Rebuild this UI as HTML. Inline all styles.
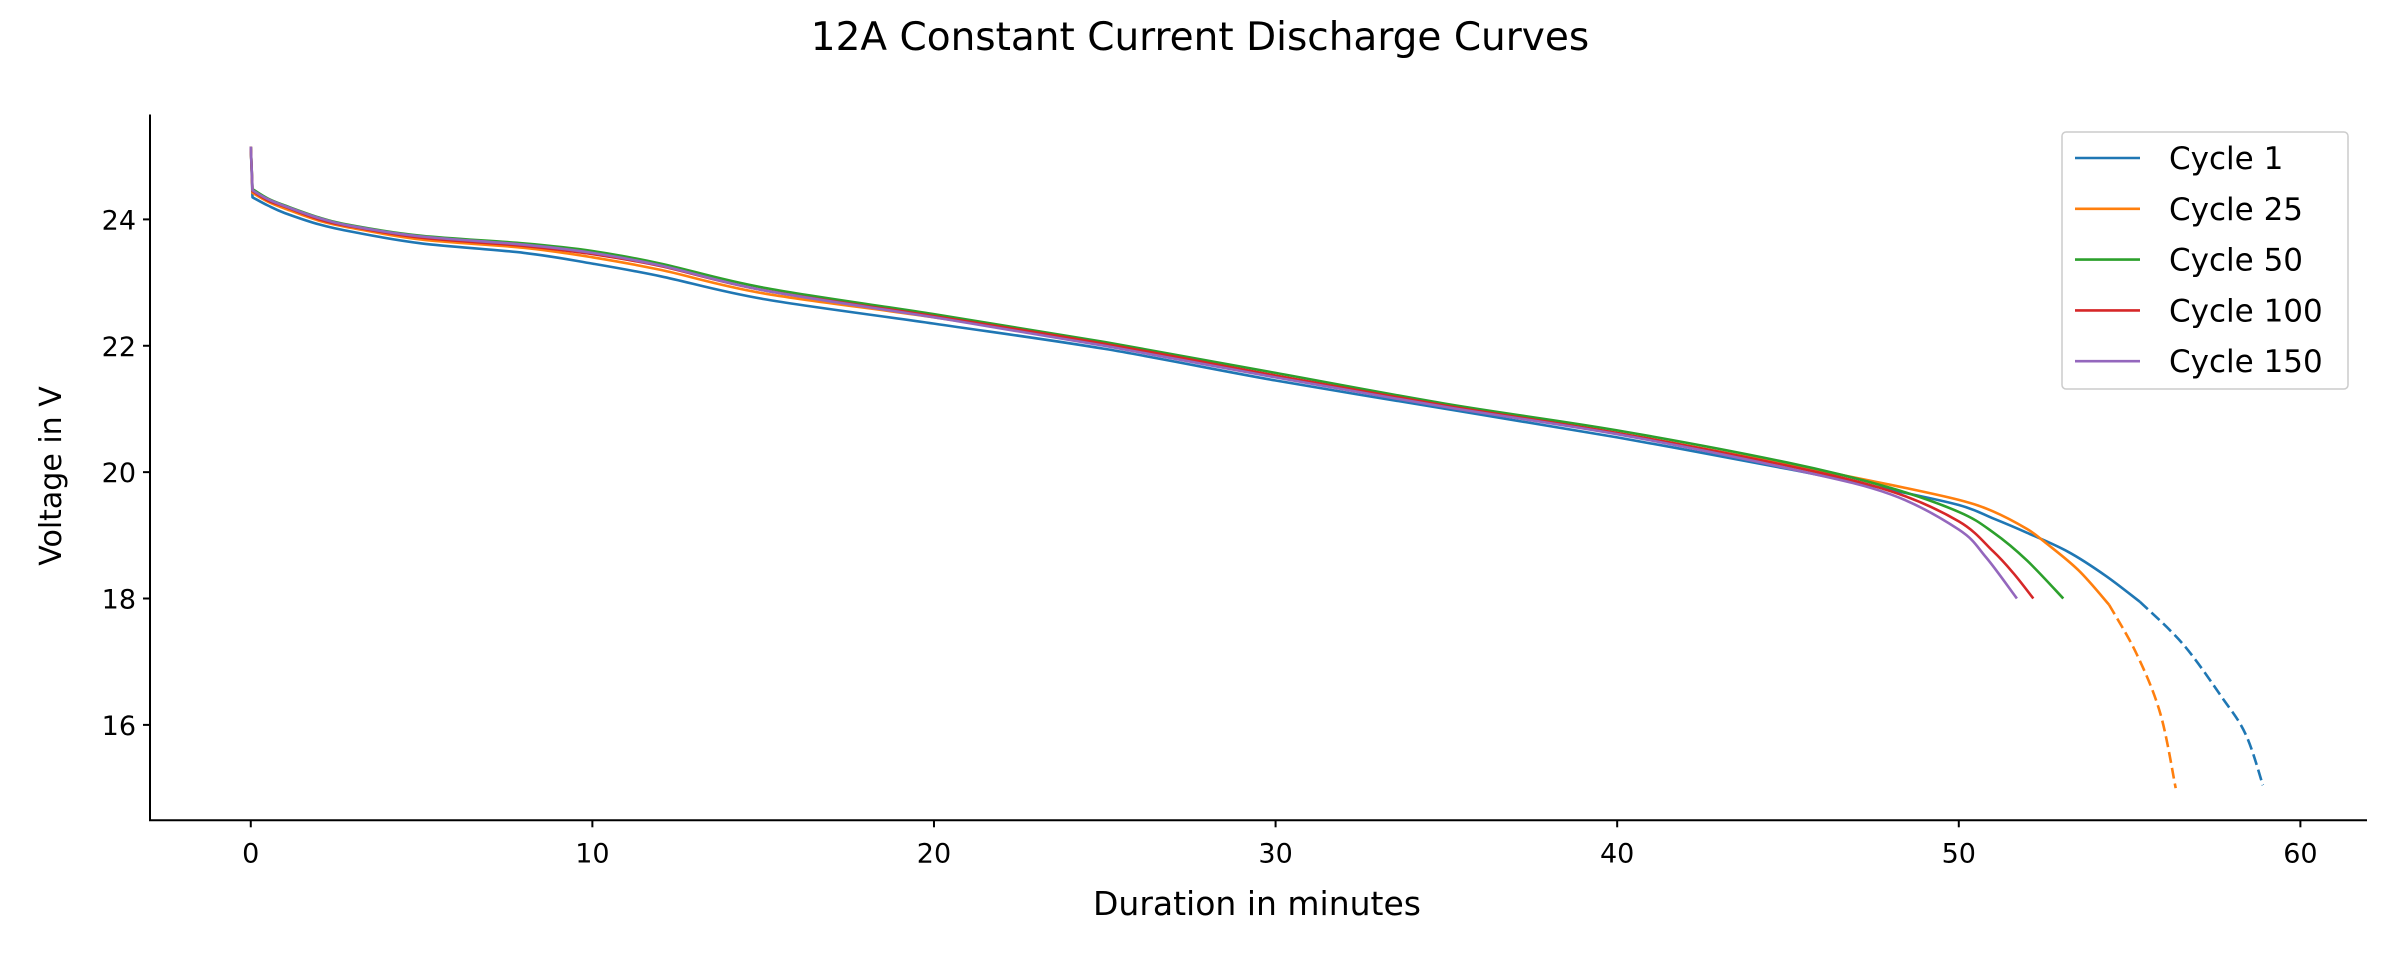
<!DOCTYPE html>
<html><head><meta charset="utf-8"><style>
html,body{margin:0;padding:0;background:#fff;}
svg{display:block;font-family:"DejaVu Sans","Liberation Sans",sans-serif;}
</style></head><body>
<svg id="chart" width="2400" height="960" viewBox="0 0 2400 960" xmlns="http://www.w3.org/2000/svg">
<text x="1200" y="50" text-anchor="middle" font-size="39">12A Constant Current Discharge Curves</text>
<g id="plot"></g>
<g id="axes"></g>
<text x="1257" y="915" text-anchor="middle" font-size="33">Duration in minutes</text>
<text transform="translate(61,476) rotate(-90)" text-anchor="middle" font-size="30">Voltage in V</text>
<g id="legend"></g>
</svg>
<script>
const xTicks = [0,10,20,30,40,50,60];
const yTicks = [16,18,20,22,24];
const seriesNames = ["Cycle 1","Cycle 25","Cycle 50","Cycle 100","Cycle 150"];
const seriesColors = ["#1f77b4","#ff7f0e","#2ca02c","#d62728","#9467bd"];
const c1T = [0,0.05,0.5,1,2,3,5,8,10,12,15,20,25,30,35,40,45,48,50,51,52,53.2,54.3,55.3];
const c1V = [25.15,24.35,24.22,24.1,23.92,23.8,23.62,23.47,23.3,23.1,22.74,22.35,21.95,21.45,21.0,20.55,20.05,19.72,19.48,19.27,19.04,18.74,18.36,17.95];
const c1DashT = [55.3,56.56,57.7,58.4,58.9];
const c1DashV = [17.95,17.28,16.44,15.85,15.05];
const c25T = [0,0.05,0.5,1,2,3,5,8,10,12,15,20,25,30,35,40,45,48,50,51,52,52.5,53.5,54.4];
const c25V = [25.15,24.42,24.28,24.17,23.98,23.86,23.68,23.55,23.4,23.2,22.83,22.45,22.02,21.52,21.05,20.62,20.12,19.8,19.56,19.38,19.1,18.9,18.45,17.9];
const c25DashT = [54.4,55.2,55.9,56.35];
const c25DashV = [17.9,17.13,16.18,15.0];
const c50T = [0,0.05,0.5,1,2,3,5,8,10,12,15,20,25,30,35,40,45,48,50,51,52,53.06];
const c50V = [25.15,24.48,24.33,24.22,24.03,23.9,23.74,23.62,23.5,23.3,22.92,22.5,22.06,21.57,21.08,20.66,20.15,19.75,19.37,19.05,18.6,18.0];
const c100T = [0,0.05,0.5,1,2,3,5,8,10,12,15,20,25,30,35,40,45,48,50,51,51.6,52.18];
const c100V = [25.15,24.45,24.3,24.2,24.0,23.88,23.71,23.58,23.45,23.26,22.88,22.47,22.03,21.53,21.05,20.62,20.1,19.7,19.22,18.75,18.4,18.0];
const c150T = [0,0.05,0.5,1,2,3,5,8,10,12,15,20,25,30,35,40,45,48,50,50.8,51.7];
const c150V = [25.15,24.46,24.32,24.21,24.02,23.89,23.73,23.6,23.47,23.27,22.88,22.45,22.0,21.5,21.03,20.6,20.06,19.65,19.09,18.65,18.0];

const X0=150, X1=2367, Y0=114.5, Y1=820.3;
const xMin=-2.95, xMax=61.95, yMin=14.49, yMax=25.66;
function sx(v){return X0+(v-xMin)/(xMax-xMin)*(X1-X0);}
function sy(v){return Y1-(v-yMin)/(yMax-yMin)*(Y1-Y0);}
const NS="http://www.w3.org/2000/svg";
function mk(tag,attrs,parent){const e=document.createElementNS(NS,tag);for(const k in attrs)e.setAttribute(k,attrs[k]);parent.appendChild(e);return e;}
const plot=document.getElementById('plot'), axes=document.getElementById('axes'), legend=document.getElementById('legend');

function path(T,V){
  const P=T.map((t,i)=>[sx(t),sy(V[i])]);
  let d='M'+P[0][0].toFixed(1)+','+P[0][1].toFixed(1);
  for(let i=0;i<P.length-1;i++){
    const p0=P[Math.max(i-1,0)],p1=P[i],p2=P[i+1],p3=P[Math.min(i+2,P.length-1)];
    if(i===0){d+=' L'+p2[0].toFixed(1)+','+p2[1].toFixed(1);continue;}
    const q0=(i===1)?p1:p0;
    const c1=[p1[0]+(p2[0]-q0[0])/6,p1[1]+(p2[1]-q0[1])/6];
    const c2=[p2[0]-(p3[0]-p1[0])/6,p2[1]-(p3[1]-p1[1])/6];
    d+=' C'+c1.map(v=>v.toFixed(1)).join(',')+' '+c2.map(v=>v.toFixed(1)).join(',')+' '+p2[0].toFixed(1)+','+p2[1].toFixed(1);
  }
  return d;
}
function pathPlain(T,V){
  const P=T.map((t,i)=>[sx(t),sy(V[i])]);
  let d='M'+P[0][0].toFixed(1)+','+P[0][1].toFixed(1);
  for(let i=0;i<P.length-1;i++){
    const p0=P[Math.max(i-1,0)],p1=P[i],p2=P[i+1],p3=P[Math.min(i+2,P.length-1)];
    const c1=[p1[0]+(p2[0]-p0[0])/6,p1[1]+(p2[1]-p0[1])/6];
    const c2=[p2[0]-(p3[0]-p1[0])/6,p2[1]-(p3[1]-p1[1])/6];
    d+=' C'+c1.map(v=>v.toFixed(1)).join(',')+' '+c2.map(v=>v.toFixed(1)).join(',')+' '+p2[0].toFixed(1)+','+p2[1].toFixed(1);
  }
  return d;
}
const solid=[[c1T,c1V],[c25T,c25V],[c50T,c50V],[c100T,c100V],[c150T,c150V]];
const dashed=[[c1DashT,c1DashV],[c25DashT,c25DashV],null,null,null];
solid.forEach((s,i)=>{
  const p=mk('path',{d:path(s[0],s[1]),fill:'none',stroke:seriesColors[i],'stroke-width':2.6,'stroke-linejoin':'round'},plot);
  
  
  if(dashed[i]){
    const d=mk('path',{d:pathPlain(dashed[i][0],dashed[i][1]),fill:'none',stroke:seriesColors[i],'stroke-width':2.6,'stroke-dasharray':'11 5'},plot);
    
    
  }
});

const ya=mk('line',{x1:X0,y1:Y0,x2:X0,y2:Y1,stroke:'#000','stroke-width':2},axes);


const xa=mk('line',{x1:X0-1,y1:Y1,x2:X1,y2:Y1,stroke:'#000','stroke-width':2},axes);


xTicks.forEach(t=>{
  mk('line',{x1:sx(t),y1:Y1,x2:sx(t),y2:Y1+7,stroke:'#000','stroke-width':2},axes);
  const tx=mk('text',{x:sx(t),y:Y1+42,'text-anchor':'middle','font-size':27},axes);
  tx.textContent=t;
  
  
});
yTicks.forEach(t=>{
  mk('line',{x1:X0-7,y1:sy(t),x2:X0,y2:sy(t),stroke:'#000','stroke-width':2},axes);
  const tx=mk('text',{x:X0-14,y:sy(t)+10,'text-anchor':'end','font-size':27},axes);
  tx.textContent=t;
  
  
});

const box=mk('rect',{x:2062,y:132,width:286,height:257,rx:4,fill:'#fff','fill-opacity':0.8,stroke:'#ccc','stroke-width':1.5},legend);


seriesNames.forEach((n,i)=>{
  const y=158+i*50.8;
  const g=mk('g',{},legend);
  
  
  mk('line',{x1:2075,y1:y,x2:2140,y2:y,stroke:seriesColors[i],'stroke-width':2.6},g);
  const t=mk('text',{x:2169,y:y+11,'font-size':31},g);
  t.textContent=n;
});
</script>
</body></html>
